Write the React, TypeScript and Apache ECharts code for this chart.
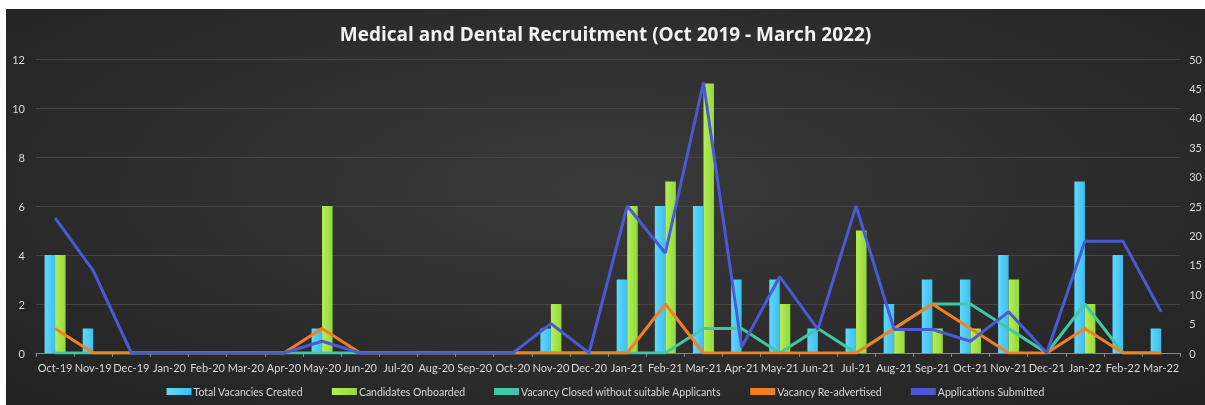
import React, { useEffect, useRef } from "react";
import * as echarts from "echarts";

const months = [
  "Oct-19", "Nov-19", "Dec-19", "Jan-20", "Feb-20", "Mar-20", "Apr-20", "May-20", "Jun-20", "Jul-20",
  "Aug-20", "Sep-20", "Oct-20", "Nov-20", "Dec-20", "Jan-21", "Feb-21", "Mar-21", "Apr-21", "May-21",
  "Jun-21", "Jul-21", "Aug-21", "Sep-21", "Oct-21", "Nov-21", "Dec-21", "Jan-22", "Feb-22", "Mar-22",
];

const totalVacancies = [4, 1, 0, 0, 0, 0, 0, 1, 0, 0, 0, 0, 0, 1, 0, 3, 6, 6, 3, 3, 1, 1, 2, 3, 3, 4, 0, 7, 4, 1];
const candidatesOnboarded = [4, 0, 0, 0, 0, 0, 0, 6, 0, 0, 0, 0, 0, 2, 0, 6, 7, 11, 0, 2, 0, 5, 1, 1, 1, 3, 0, 2, 0, 0];
const vacancyClosed = [0, 0, 0, 0, 0, 0, 0, 0, 0, 0, 0, 0, 0, 0, 0, 0, 0, 1, 1, 0, 1, 0, 1, 2, 2, 1, 0, 2, 0, 0];
const vacancyReadvertised = [1, 0, 0, 0, 0, 0, 0, 1, 0, 0, 0, 0, 0, 0, 0, 0, 2, 0, 0, 0, 0, 0, 1, 2, 1, 0, 0, 1, 0, 0];
const applicationsSubmitted = [23, 14, 0, 0, 0, 0, 0, 2, 0, 0, 0, 0, 0, 5, 0, 25, 17, 46, 1, 13, 4, 25, 4, 4, 2, 7, 0, 19, 19, 7];

const leftMax = 12;
const leftInterval = 2;
const rightMax = 50;
const rightInterval = 5;

const FONT = "Lato";

export default function App() {
  const ref = useRef<HTMLDivElement>(null);

  useEffect(() => {
    if (!ref.current) return;
    const chart = echarts.init(ref.current, undefined, { renderer: "svg" });
    chart.setOption({
      animation: false,
      backgroundColor: "transparent",
      title: {
        text: "Medical and Dental Recruitment (Oct 2019 - March 2022)",
        left: "center",
        top: 10,
        textStyle: { color: "#f2f2f2", fontSize: 19, fontWeight: "bold", fontFamily: "Open Sans" },
      },
      legend: {
        bottom: 3,
        left: "center",
        itemWidth: 25,
        itemHeight: 7,
        itemGap: 29,
        textStyle: { color: "#d9d9d9", fontSize: 10.5, fontFamily: FONT, padding: [0, 0, 0, -3] },
        data: [
          { name: "Total Vacancies Created", icon: "rect" },
          { name: "Candidates Onboarded", icon: "rect" },
          { name: "Vacancy Closed without suitable Applicants", icon: "rect", itemStyle: { color: "#3fc9a3" } },
          { name: "Vacancy Re-advertised", icon: "rect", itemStyle: { color: "#f57f20" } },
          { name: "Applications Submitted", icon: "rect", itemStyle: { color: "#4a5ad6" } },
        ],
      },
      grid: { left: 30, right: 24, top: 50, bottom: 52, containLabel: false },
      xAxis: {
        type: "category",
        data: months,
        boundaryGap: true,
        axisLine: { lineStyle: { color: "#8a8a8a", width: 1 } },
        axisTick: { show: true, length: 4, lineStyle: { color: "#8a8a8a" } },
        axisLabel: { color: "#d9d9d9", fontSize: 11, fontFamily: FONT, margin: 9, interval: 0 },
      },
      yAxis: [
        {
          type: "value",
          min: 0,
          max: leftMax,
          interval: leftInterval,
          axisLine: { show: false },
          axisTick: { show: false },
          axisLabel: { color: "#d9d9d9", fontSize: 11, fontFamily: FONT, margin: 11 },
          splitLine: { lineStyle: { color: "#454545", width: 1 } },
        },
        {
          type: "value",
          min: 0,
          max: rightMax,
          interval: rightInterval,
          position: "right",
          axisLine: { show: false },
          axisTick: { show: false },
          axisLabel: { color: "#d9d9d9", fontSize: 11, fontFamily: FONT, margin: 9 },
          splitLine: { show: false },
        },
      ],
      series: [
        {
          name: "Total Vacancies Created",
          type: "bar",
          yAxisIndex: 0,
          data: totalVacancies,
          barWidth: 10.5,
          barGap: "0%",
          itemStyle: {
            color: new echarts.graphic.LinearGradient(0, 0, 1, 0, [
              { offset: 0, color: "#5fd8fb" },
              { offset: 1, color: "#3fbeee" },
            ]),
          },
        },
        {
          name: "Candidates Onboarded",
          type: "bar",
          yAxisIndex: 0,
          data: candidatesOnboarded,
          barWidth: 10.5,
          barGap: "0%",
          itemStyle: {
            color: new echarts.graphic.LinearGradient(0, 0, 1, 0, [
              { offset: 0, color: "#b4ef55" },
              { offset: 1, color: "#93d93c" },
            ]),
          },
        },
        {
          name: "Vacancy Closed without suitable Applicants",
          type: "line",
          yAxisIndex: 0,
          data: vacancyClosed,
          symbol: "none",
          lineStyle: { color: "#3fc9a3", width: 3 },
          itemStyle: { color: "#3fc9a3" },
        },
        {
          name: "Vacancy Re-advertised",
          type: "line",
          yAxisIndex: 0,
          data: vacancyReadvertised,
          symbol: "none",
          lineStyle: { color: "#f57f20", width: 3 },
          itemStyle: { color: "#f57f20" },
        },
        {
          name: "Applications Submitted",
          type: "line",
          yAxisIndex: 1,
          data: applicationsSubmitted,
          symbol: "none",
          lineStyle: { color: "#4a5ad6", width: 3 },
          itemStyle: { color: "#4a5ad6" },
        },
      ],
    });
    return () => chart.dispose();
  }, []);

  return (
    <div
      ref={ref}
      style={{
        position: "fixed",
        left: 6,
        top: 9,
        width: 1199,
        height: 396,
        background: "radial-gradient(ellipse at 50% 45%, #3a3a3a 0%, #2d2d2d 55%, #222222 100%)",
      }}
    />
  );
}
